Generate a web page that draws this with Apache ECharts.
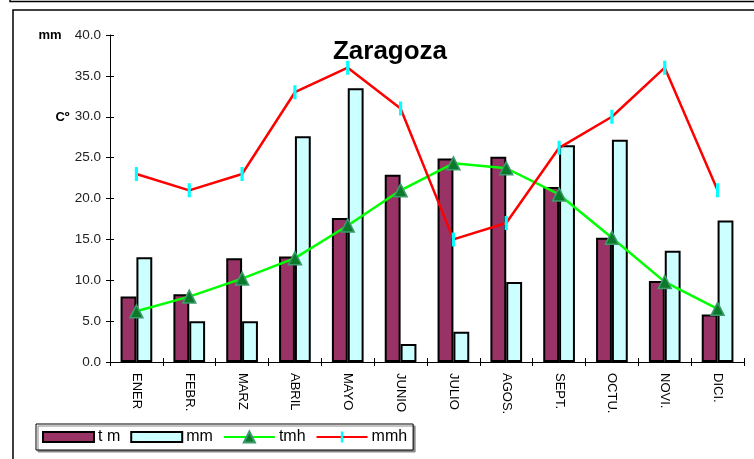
<!DOCTYPE html>
<html>
<head>
<meta charset="utf-8">
<script src="https://cdn.jsdelivr.net/npm/echarts@6/dist/echarts.min.js"></script>
<style>
html,body{margin:0;padding:0;background:#fff;}
#c{width:754px;height:459px;}
</style>
</head>
<body>
<div id="c"></div>
<script>
var categories = ['ENER','FEBR.','MARZ','ABRIL','MAYO','JUNIO','JULIO','AGOS.','SEPT.','OCTU.','NOVI.','DICI.'];
var tm  = [8.0, 8.3, 12.7, 12.9, 17.6, 22.9, 24.9, 25.1, 21.4, 15.2, 9.9, 5.8];
var mm  = [12.8, 5.0, 5.0, 27.6, 33.5, 2.2, 3.7, 9.8, 26.5, 27.2, 13.6, 17.3];
var tmh = [6.2, 8.0, 10.2, 12.7, 16.7, 21.0, 24.3, 23.7, 20.5, 15.2, 9.8, 6.5];
var mmh = [23.0, 21.0, 23.0, 33.0, 36.0, 31.0, 15.0, 17.0, 26.2, 30.0, 36.0, 21.0];
var yTicks = [0, 5, 10, 15, 20, 25, 30, 35, 40];

var FONT = 'Arial, "Liberation Sans", sans-serif';
// square-bbox symbol containing a thin vertical dash
var DASH = 'path://M0,0 L0.01,0 M5.4,0 L8.6,0 L8.6,14 L5.4,14 Z M14,14 L13.99,14';
// legend swatch for bars: 51x14 box with a 10px-tall rectangle
var SWATCH = 'path://M0,0 L0.01,0 M0,2 L51,2 L51,12 L0,12 Z M51,14 L50.99,14';

var chart = echarts.init(document.getElementById('c'), null, {renderer:'canvas'});
chart.setOption({
  animation:false,
  backgroundColor:'#fff',
  grid:{left:110, top:35, right:10, bottom:97, containLabel:false},
  legend:{
    left:36, top:424, padding:[5,6,5,6],
    itemWidth:51, itemHeight:14, itemGap:10,
    borderColor:'#000', borderWidth:1, backgroundColor:'#fff',
    shadowColor:'#888', shadowOffsetX:2, shadowOffsetY:2, shadowBlur:0,
    textStyle:{fontFamily:FONT, fontSize:16, color:'#000', padding:[0,0,0,-1]},
    data:[{name:'t m', icon:SWATCH},{name:'mm', icon:SWATCH},'tmh','mmh']
  },
  xAxis:[{
    type:'category', data:categories, position:'bottom',
    axisLine:{lineStyle:{color:'#000', width:1}},
    axisTick:{show:true, length:4, lineStyle:{color:'#000'}},
    axisLabel:{rotate:-90, margin:11, fontFamily:FONT, fontSize:13, color:'#000', interval:0},
    splitLine:{show:false}
  },{
    type:'category', data:categories, position:'bottom',
    axisLine:{show:false},
    axisTick:{show:true, inside:true, length:4, lineStyle:{color:'#000'}},
    axisLabel:{show:false}, splitLine:{show:false}
  }],
  yAxis:[{
    type:'value', min:yTicks[0], max:yTicks[yTicks.length-1], interval:5, position:'left',
    axisLine:{show:true, lineStyle:{color:'#000', width:1}},
    axisTick:{show:true, length:4, lineStyle:{color:'#000'}},
    axisLabel:{margin:9, fontFamily:FONT, fontSize:13.5, color:'#222', formatter:function(v){return v.toFixed(1);}},
    splitLine:{show:false}
  },{
    type:'value', min:yTicks[0], max:yTicks[yTicks.length-1], interval:5, position:'left',
    axisLine:{show:false},
    axisTick:{show:true, inside:true, length:4, lineStyle:{color:'#000'}},
    axisLabel:{show:false}, splitLine:{show:false}
  }],
  series:[
    {name:'t m', type:'bar', data:tm, barGap:'0%', barCategoryGap:'40%',
     itemStyle:{color:'#993366', borderColor:'#000', borderWidth:2}},
    {name:'mm', type:'bar', data:mm, barGap:'0%', barCategoryGap:'40%',
     itemStyle:{color:'#CCFFFF', borderColor:'#000', borderWidth:2}},
    {name:'tmh', type:'line', data:tmh, symbol:'triangle', symbolSize:13,
     lineStyle:{color:'#00FF00', width:2.5},
     itemStyle:{color:'#0A7A2A', borderColor:'#3C9C6C', borderWidth:1.5}},
    {name:'mmh', type:'line', data:mmh, symbol:DASH, symbolSize:14,
     lineStyle:{color:'#FF0000', width:2.5},
     itemStyle:{color:'#00FFFF', borderWidth:0}}
  ],
  graphic:[
    {type:'rect', shape:{x:10, y:-50, width:800, height:51.5}, style:{fill:'none', stroke:'#000', lineWidth:1.5}, silent:true},
    {type:'rect', shape:{x:13, y:10, width:800, height:500}, style:{fill:'none', stroke:'#000', lineWidth:1.5}, silent:true},
    {type:'text', x:390, y:52, style:{text:'Zaragoza', font:'bold 26px '+FONT, fill:'#000', textAlign:'center', textVerticalAlign:'middle'}},
    {type:'text', x:50, y:35, style:{text:'mm', font:'bold 13px '+FONT, fill:'#000', textAlign:'center', textVerticalAlign:'middle'}},
    {type:'text', x:62.5, y:117, style:{text:'Cº', font:'bold 13px '+FONT, fill:'#000', textAlign:'center', textVerticalAlign:'middle'}}
  ]
});
</script>
</body>
</html>
